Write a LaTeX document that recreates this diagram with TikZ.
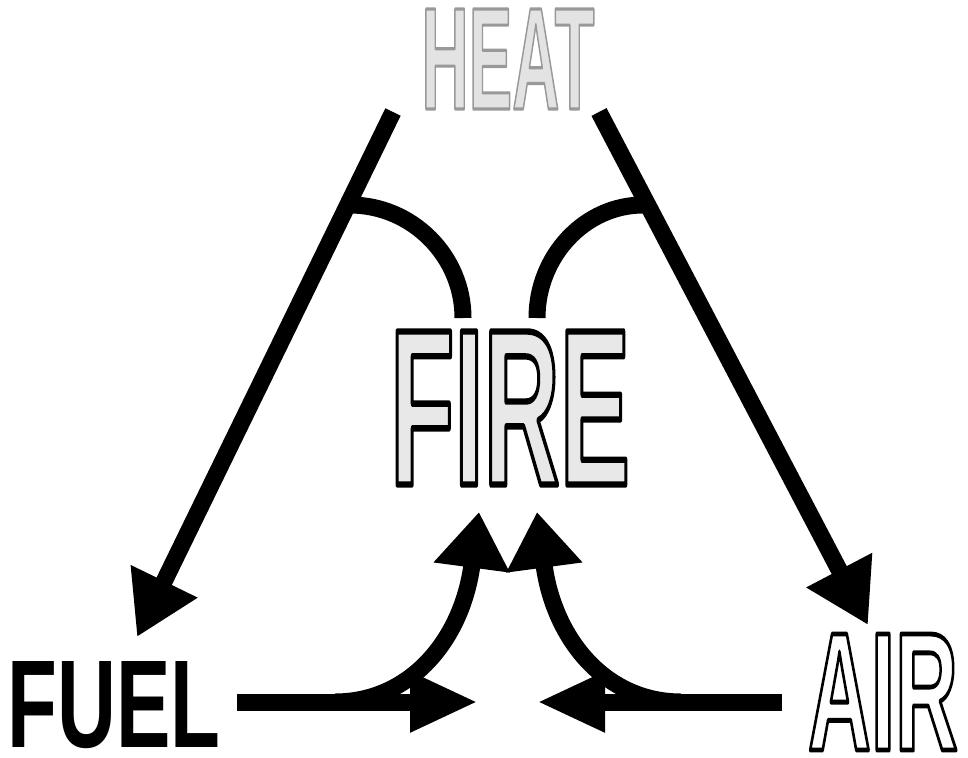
\documentclass[tikz,border=0pt]{standalone}
\usepackage{fontspec}
\setmainfont{Liberation Sans}
\usepackage{graphicx}
\usetikzlibrary{arrows.meta}
% outlined text: fill in the current colour, stroke in the given grey level
\newcommand{\outlinedword}[3]{%
  \special{pdf:literal direct #1 G 2 Tr #2 w 1 j}#3\special{pdf:literal direct 0 Tr}}
\begin{document}
\begin{tikzpicture}[x=1pt,y=-1pt,
  conn/.style={line width=17pt, draw=black},
  diaghead/.style={-{Triangle[length=62pt,width=70pt]}},
  horhead/.style={-{Triangle[length=68pt,width=56pt]}},
  uphead/.style={-{Triangle[length=56pt,width=73pt]}},
  word/.style={inner sep=0pt, outer sep=0pt},
  bigfont/.style={font=\fontsize{140}{140}\selectfont\bfseries}
]
\useasboundingbox (0,0) rectangle (968,757);

% ---- texts ----
\node[word,bigfont] (heat) at (508,59)
  {\resizebox{173pt}{100pt}{\textcolor{gray!22}{\outlinedword{0.6}{3}{HEAT}}}};
\node[word,bigfont] (fire) at (510,408)
  {\resizebox{240pt}{153pt}{\textcolor{gray!18}{\outlinedword{0}{4}{FIRE}}}};
\node[word,bigfont] (fuel) at (114,705)
  {\resizebox{213pt}{86pt}{\textcolor{black}{FUEL}}};
\node[word,bigfont] (air) at (883,692)
  {\resizebox{150pt}{116pt}{\textcolor{white}{\outlinedword{0}{4}{AIR}}}};

% ---- connector end points ----
\coordinate (heatL) at (393,112);
\coordinate (heatR) at (599,112);
\coordinate (fuelTip) at (137,637);
\coordinate (airTip) at (868,625);
\coordinate (jl) at (350,205);
\coordinate (jr) at (643,205);
\coordinate (fireTL) at (463,318);
\coordinate (fireTR) at (537,318);
\coordinate (fuelR) at (237,702);
\coordinate (airL) at (782,702);
\coordinate (midL) at (478,702);
\coordinate (midR) at (537,702);
\coordinate (bl) at (335,702);
\coordinate (br) at (681,702);
\coordinate (upL) at (479,512);
\coordinate (upR) at (537,512);

% ---- connectors ----
\draw[conn,diaghead] (heatL) -- (fuelTip);
\draw[conn,diaghead] (heatR) -- (airTip);
\draw[conn] (jl) .. controls (412,205) and (463,256) .. (fireTL);
\draw[conn] (jr) .. controls (585,205) and (537,256) .. (fireTR);
\draw[conn,horhead] (fuelR) -- (midL);
\draw[conn,horhead] (airL) -- (midR);
\draw[conn,uphead] (bl) .. controls (410,702) and (462,640) .. (upL);
\draw[conn,uphead] (br) .. controls (606,702) and (554,640) .. (upR);
\end{tikzpicture}
\end{document}
